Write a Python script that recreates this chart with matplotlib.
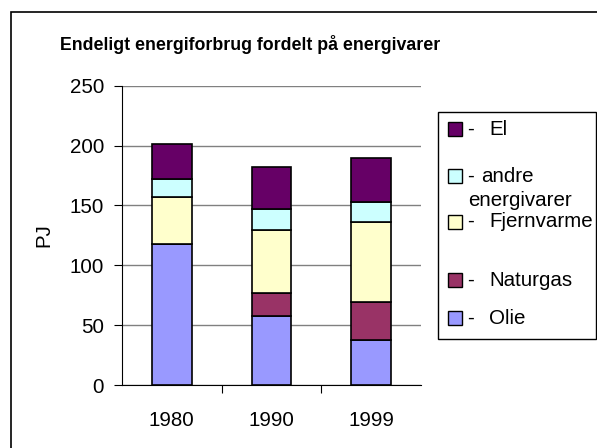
import matplotlib.pyplot as plt
from matplotlib.patches import Rectangle
import numpy as np

plt.rcParams['font.family'] = ['Liberation Sans', 'DejaVu Sans']

years = ["1980", "1990", "1999"]
serier = ["Olie", "Naturgas", "Fjernvarme", "andre energivarer", "El"]
olie = [118, 57.5, 38]
naturgas = [0, 19, 31]
fjernvarme = [39, 53, 67]
andre = [15, 17.5, 16.5]
el = [29, 35, 37.5]
farver = ["#9999FF", "#993366", "#FFFFCC", "#CCFFFF", "#660066"]

W, H = 597, 448
fs = 14.8
fig = plt.figure(figsize=(W / 100, H / 100), dpi=100)

# ramme om diagrammet
fig.patches.append(Rectangle((11 / W, -0.1), 1.2, 1 - 12 / H + 0.1, transform=fig.transFigure,
                             fill=False, edgecolor="black", linewidth=1.2))

ax = fig.add_axes([122 / W, (H - 385) / H, (421 - 122) / W, (385 - 85.7) / H])
x = np.arange(len(years))
bund = np.zeros(len(years))
for vals, farve in zip([olie, naturgas, fjernvarme, andre, el], farver):
    ax.bar(x, vals, 0.4, bottom=bund, color=farve, edgecolor="black", linewidth=1.2, zorder=3)
    bund += np.array(vals)

ax.set_xlim(-0.5, 2.5)
ax.set_ylim(0, 250)
ax.set_yticks(range(0, 251, 50))
ax.set_xticks([0.5, 1.5])
ax.set_xticklabels([])
ax.set_xticks(x, minor=True)
ax.set_xticklabels(years, minor=True, fontsize=fs)
ax.tick_params(axis="x", which="minor", length=0, pad=19)
ax.tick_params(axis="x", which="major", length=6, direction="out")
ax.tick_params(axis="y", labelsize=fs, length=6, pad=7)
ax.grid(axis="y", color="#808080", linewidth=1, zorder=0)
ax.spines["right"].set_visible(False)
ax.spines["top"].set_visible(False)
ax.set_ylabel("PJ", fontsize=fs, labelpad=12)

fig.text(250 / W, 1 - 44 / H, "Endeligt energiforbrug fordelt på energivarer",
         ha="center", va="center", fontsize=12.75, fontweight="bold")

# forklaring
fig.patches.append(Rectangle((438 / W, (H - 339) / H), (596 - 438) / W, (339 - 111.7) / H,
                             transform=fig.transFigure, fill=True, facecolor="white",
                             edgecolor="black", linewidth=1))
navne = ["El", "andre", "Fjernvarme", "Naturgas", "Olie"]
ypos = [129, 176, 221.7, 280, 318]
for navn, farve, yp in zip(navne, farver[::-1], ypos):
    fig.patches.append(Rectangle((448 / W, (H - yp - 7) / H), 14 / W, 14 / H,
                                 transform=fig.transFigure, facecolor=farve,
                                 edgecolor="black", linewidth=1))
    fig.text(467 / W, (H - yp) / H, "-", ha="left", va="center", fontsize=fs)
    x_navn = 481.5 if navn == "andre" else 489
    fig.text(x_navn / W, (H - yp) / H, navn, ha="left", va="center", fontsize=fs)
fig.text(468 / W, (H - 200) / H, "energivarer", ha="left", va="center", fontsize=fs)

fig.savefig("out.png", dpi=100)
